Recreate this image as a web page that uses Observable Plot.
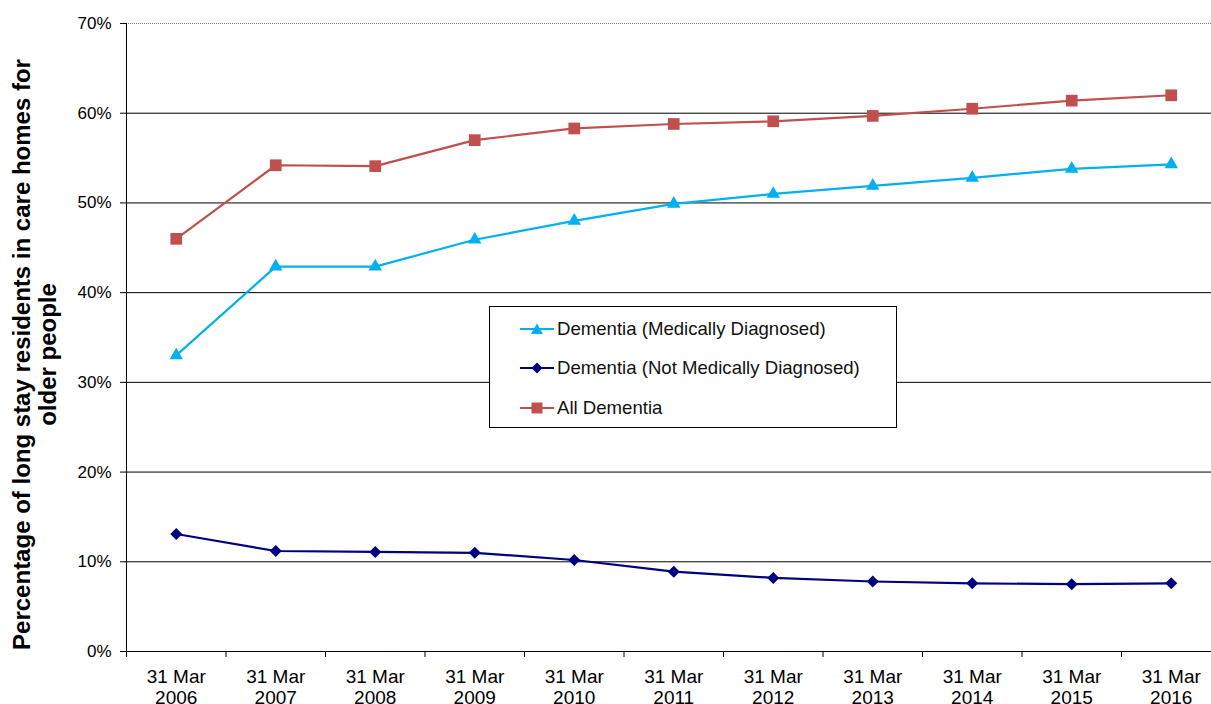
<!DOCTYPE html>
<html>
<head>
<meta charset="utf-8">
<script src="https://cdn.jsdelivr.net/npm/d3@7"></script>
<script src="https://cdn.jsdelivr.net/npm/@observablehq/plot@0.6"></script>
<style>
  html, body { margin: 0; padding: 0; background: #fff; }
  #wrap { position: relative; width: 1211px; height: 704px; overflow: hidden; font-family: "Liberation Sans", Arial, sans-serif; }
  #legend { position: absolute; left: 489px; top: 306px; width: 408px; height: 122px; box-sizing: border-box; border: 1px solid #000; background: #fff; }
  .row { position: absolute; left: 30px; height: 20px; display: flex; align-items: center; }
  .row span { font-size: 18.6px; color: #111; margin-left: 3px; white-space: nowrap; }
</style>
</head>
<body>
<div id="wrap"></div>
<script>
// ---- Data ----
const years = [2006, 2007, 2008, 2009, 2010, 2011, 2012, 2013, 2014, 2015, 2016];
const medicallyDiagnosed = [33.0, 42.9, 42.9, 45.9, 48.0, 49.9, 51.0, 51.9, 52.8, 53.8, 54.3];
const notMedicallyDiagnosed = [13.1, 11.2, 11.1, 11.0, 10.2, 8.9, 8.2, 7.8, 7.6, 7.5, 7.6];
const allDementia = [46.0, 54.2, 54.1, 57.0, 58.3, 58.8, 59.1, 59.7, 60.5, 61.4, 62.0];
const yTicks = [0, 10, 20, 30, 40, 50, 60, 70];
const seriesNames = ["Dementia (Medically Diagnosed)", "Dementia (Not Medically Diagnosed)", "All Dementia"];
const yTitle = "Percentage of long stay residents in care homes for\nolder people";

const colors = ["#00B0F0", "#000080", "#C0504D"];
const symbols = ["triangle", "diamond2", "square"];
const radii = [5.0, 5.4, 6.6];
const seriesValues = [medicallyDiagnosed, notMedicallyDiagnosed, allDementia];

const records = seriesValues.map((vals, i) => years.map((yr, j) => ({series: seriesNames[i], year: yr, value: vals[j]})));
const boundaries = years.map(y => y - 0.5);

const marks = [
  Plot.ruleY(yTicks.filter(t => t > 0 && t < 70), {stroke: "#000", strokeWidth: 1}),
  Plot.ruleY([70], {stroke: "#808080", strokeWidth: 1, strokeDasharray: "1,1"}),
  Plot.axisY({ticks: yTicks, tickSize: 6, tickPadding: 9, tickFormat: d => d + "%", fontSize: 17, label: null, stroke: "#000"}),
  Plot.axisX({ticks: years, tickSize: 0, tickPadding: 17, tickFormat: d => "31 Mar\n" + d, fontSize: 19, lineHeight: 1.1, label: null}),
  Plot.axisX({ticks: boundaries, tickSize: 6, tickFormat: () => "", label: null, stroke: "#000"}),
  Plot.ruleY([0], {stroke: "#000", strokeWidth: 1}),
  Plot.ruleX([2005.5], {stroke: "#000", strokeWidth: 1}),
  Plot.text([yTitle], {frameAnchor: "left", text: d => d, rotate: -90, dx: -114, dy: 17, lineAnchor: "top", textAnchor: "middle", fontSize: 24, fontWeight: "bold", lineHeight: 1.05, fill: "#000"})
];
records.forEach((data, i) => {
  marks.push(Plot.line(data, {x: "year", y: "value", stroke: colors[i], strokeWidth: 2.2}));
  marks.push(Plot.dot(data, {x: "year", y: "value", symbol: () => symbols[i], fill: colors[i], stroke: "none", r: radii[i]}));
});

const chart = Plot.plot({
  width: 1211,
  height: 704,
  marginLeft: 126,
  marginRight: 0,
  marginTop: 23,
  marginBottom: 53,
  style: {fontFamily: "'Liberation Sans', Arial, sans-serif", color: "#000", background: "#fff"},
  x: {domain: [2005.5, 2016.5], range: [126, 1220.5]},
  y: {domain: [0, 70], range: [651, 23]},
  symbol: {type: "identity"},
  marks
});
const wrap = document.getElementById("wrap");
wrap.appendChild(chart);

// ---- Legend ----
const legend = document.createElement("div");
legend.id = "legend";
const rowTops = [12, 51, 91];
const symPath = {
  triangle: "M0,-5.5L6,5L-6,5Z",
  diamond2: "M0,-5.5L5.5,0L0,5.5L-5.5,0Z",
  square: "M-5.5,-5.5H5.5V5.5H-5.5Z"
};
seriesNames.forEach((name, i) => {
  const row = document.createElement("div");
  row.className = "row";
  row.style.top = rowTops[i] + "px";
  row.innerHTML = `<svg width="34" height="20" viewBox="-17 -10 34 20"><line x1="-17" x2="17" y1="0" y2="0" stroke="${colors[i]}" stroke-width="2"/><path d="${symPath[symbols[i]]}" fill="${colors[i]}"/></svg><span>${name}</span>`;
  legend.appendChild(row);
});
wrap.appendChild(legend);
</script>
</body>
</html>
